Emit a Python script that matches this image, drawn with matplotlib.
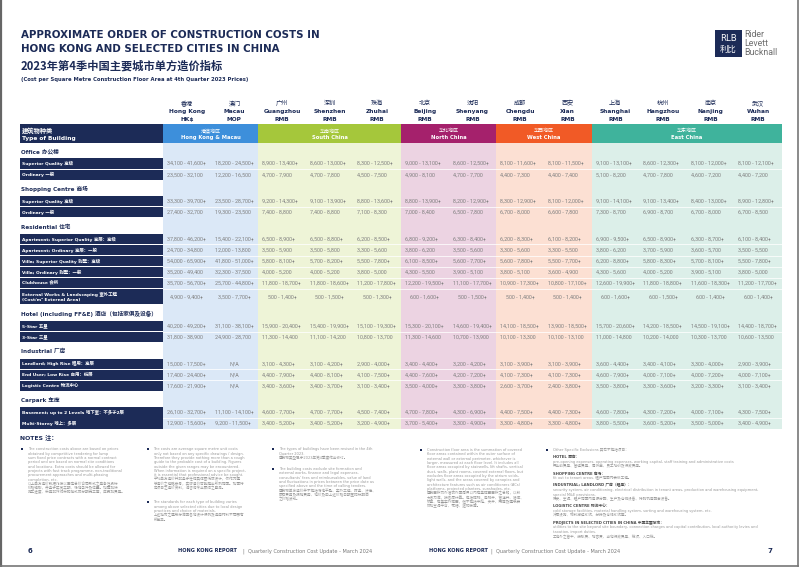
import matplotlib
matplotlib.use('Agg')
import matplotlib.pyplot as plt
from matplotlib.patches import Rectangle

plt.rcParams['font.family'] = ['DejaVu Sans', 'Noto Sans CJK SC']
FONT_TXT = ['DejaVu Sans', 'Noto Sans CJK SC']
FONT_NUM = ['Roboto', 'DejaVu Sans']
FONT_CJK = ['Noto Sans CJK SC', 'DejaVu Sans']

W, H = 802, 567
NAVY = '#1c2b57'
GREY = '#808080'

# 城市表头
cities_cn = ['香港', '澳门', '广州', '深圳', '珠海', '北京', '沈阳', '成都', '西安', '上海', '杭州', '南京', '武汉']
cities_en = ['Hong Kong', 'Macau', 'Guangzhou', 'Shenzhen', 'Zhuhai', 'Beijing', 'Shenyang',
             'Chengdu', 'Xian', 'Shanghai', 'Hangzhou', 'Nanjing', 'Wuhan']
currencies = ['HK$', 'MOP', 'RMB', 'RMB', 'RMB', 'RMB', 'RMB', 'RMB', 'RMB', 'RMB', 'RMB', 'RMB', 'RMB']

# 地区分组
region_cn = ['港澳地区', '华南地区', '华北地区', '华西地区', '华东地区']
region_en = ['Hong Kong & Macau', 'South China', 'North China', 'West China', 'East China']
region_ncols = [2, 3, 2, 2, 4]
region_colors = ['#3d8fdb', '#a5c73b', '#a5216c', '#f15a26', '#3fb39c']
region_light = ['#dbe8f7', '#eef4d7', '#ecd3e2', '#fce0d3', '#dcefe9']

# 办公楼
office_labels = ['Superior Quality 高级', 'Ordinary 一般']
office_superior = ['34,100 - 41,600+', '18,200 - 24,500+', '8,900 - 13,400+', '8,600 - 13,000+', '8,300 - 12,500+',
                   '9,000 - 13,100+', '8,600 - 12,500+', '8,100 - 11,600+', '8,100 - 11,500+',
                   '9,100 - 13,100+', '8,600 - 12,300+', '8,100 - 12,000+', '8,100 - 12,100+']
office_ordinary = ['23,500 - 32,100', '12,200 - 16,500', '4,700 - 7,900', '4,700 - 7,800', '4,500 - 7,500',
                   '4,900 - 8,100', '4,700 - 7,700', '4,400 - 7,300', '4,400 - 7,400',
                   '5,100 - 8,200', '4,700 - 7,800', '4,600 - 7,200', '4,400 - 7,200']

# 商场
shop_labels = ['Superior Quality 高级', 'Ordinary 一般']
shop_superior = ['33,300 - 39,700+', '23,500 - 28,700+', '9,200 - 14,300+', '9,100 - 13,900+', '8,800 - 13,600+',
                 '8,800 - 13,900+', '8,200 - 12,900+', '8,300 - 12,900+', '8,100 - 12,000+',
                 '9,100 - 14,100+', '9,100 - 13,400+', '8,400 - 13,000+', '8,900 - 12,800+']
shop_ordinary = ['27,400 - 32,700', '19,300 - 23,500', '7,400 - 8,800', '7,400 - 8,800', '7,100 - 8,300',
                 '7,000 - 8,400', '6,500 - 7,800', '6,700 - 8,000', '6,600 - 7,800',
                 '7,300 - 8,700', '6,900 - 8,700', '6,700 - 8,000', '6,700 - 8,500']

# 住宅
resi_labels = ['Apartment; Superior Quality 高层：高级', 'Apartment; Ordinary 高层：一般',
               'Villa; Superior Quality 别墅：高级', 'Villa; Ordinary 别墅：一般', 'Clubhouse 会所',
               'External Works & Landscaping 室外工程\n(Cost/m² External Area)']
apt_superior = ['37,800 - 46,200+', '15,400 - 22,100+', '6,500 - 8,900+', '6,500 - 8,800+', '6,200 - 8,500+',
                '6,800 - 9,200+', '6,300 - 8,400+', '6,200 - 8,300+', '6,100 - 8,200+',
                '6,900 - 9,500+', '6,500 - 8,900+', '6,300 - 8,700+', '6,100 - 8,400+']
apt_ordinary = ['24,700 - 34,800', '12,000 - 13,800', '3,500 - 5,900', '3,500 - 5,800', '3,300 - 5,600',
                '3,800 - 6,200', '3,500 - 5,600', '3,300 - 5,600', '3,300 - 5,500',
                '3,800 - 6,200', '3,700 - 5,900', '3,600 - 5,700', '3,500 - 5,500']
villa_superior = ['54,000 - 65,900+', '41,800 - 51,000+', '5,800 - 8,100+', '5,700 - 8,200+', '5,500 - 7,800+',
                  '6,100 - 8,500+', '5,600 - 7,700+', '5,600 - 7,800+', '5,500 - 7,700+',
                  '6,200 - 8,800+', '5,800 - 8,300+', '5,700 - 8,100+', '5,500 - 7,800+']
villa_ordinary = ['35,200 - 49,400', '32,300 - 37,500', '4,000 - 5,200', '4,000 - 5,200', '3,800 - 5,000',
                  '4,300 - 5,500', '3,900 - 5,100', '3,800 - 5,100', '3,600 - 4,900',
                  '4,300 - 5,600', '4,000 - 5,200', '3,900 - 5,100', '3,800 - 5,000']
clubhouse = ['35,700 - 56,700+', '25,700 - 44,800+', '11,800 - 18,700+', '11,800 - 18,600+', '11,200 - 17,800+',
             '12,200 - 19,500+', '11,100 - 17,700+', '10,900 - 17,300+', '10,800 - 17,100+',
             '12,600 - 19,900+', '11,800 - 18,800+', '11,600 - 18,300+', '11,200 - 17,700+']
external_works = ['4,900 - 9,400+', '3,500 - 7,700+', '500 - 1,400+', '500 - 1,500+', '500 - 1,300+',
                  '600 - 1,600+', '500 - 1,500+', '500 - 1,400+', '500 - 1,400+',
                  '600 - 1,600+', '600 - 1,500+', '600 - 1,400+', '600 - 1,400+']

# 酒店
hotel_labels = ['5-Star 五星', '3-Star 三星']
hotel_5star = ['40,200 - 49,200+', '31,100 - 38,100+', '15,900 - 20,400+', '15,400 - 19,900+', '15,100 - 19,300+',
               '15,300 - 20,100+', '14,600 - 19,400+', '14,100 - 18,500+', '13,900 - 18,500+',
               '15,700 - 20,600+', '14,200 - 18,500+', '14,500 - 19,100+', '14,400 - 18,700+']
hotel_3star = ['31,800 - 38,900', '24,900 - 28,700', '11,300 - 14,400', '11,100 - 14,200', '10,800 - 13,700',
               '11,300 - 14,600', '10,700 - 13,900', '10,100 - 13,300', '10,100 - 13,100',
               '11,000 - 14,800', '10,200 - 14,000', '10,300 - 13,700', '10,600 - 13,500']

# 厂房
ind_labels = ['Landlord; High Rise 租用：高层', 'End User; Low Rise 自用：低层', 'Logistic Centre 物流中心']
ind_landlord = ['15,000 - 17,500+', 'N/A', '3,100 - 4,300+', '3,100 - 4,200+', '2,900 - 4,000+',
                '3,400 - 4,400+', '3,200 - 4,200+', '3,100 - 3,900+', '3,100 - 3,900+',
                '3,600 - 4,400+', '3,400 - 4,100+', '3,300 - 4,000+', '2,900 - 3,900+']
ind_end_user = ['17,400 - 24,400+', 'N/A', '4,400 - 7,900+', '4,400 - 8,100+', '4,100 - 7,500+',
                '4,400 - 7,600+', '4,200 - 7,200+', '4,100 - 7,300+', '4,100 - 7,300+',
                '4,600 - 7,900+', '4,000 - 7,100+', '4,000 - 7,200+', '4,000 - 7,100+']
ind_logistic = ['17,600 - 21,900+', 'N/A', '3,400 - 3,600+', '3,400 - 3,700+', '3,100 - 3,400+',
                '3,500 - 4,000+', '3,300 - 3,800+', '2,600 - 3,700+', '2,400 - 3,800+',
                '3,500 - 3,800+', '3,300 - 3,600+', '3,200 - 3,300+', '3,100 - 3,400+']

# 车库
car_labels = ['Basement; up to 2 Levels 地下室：不多于2层', 'Multi-Storey 地上：多层']
car_basement = ['26,100 - 32,700+', '11,100 - 14,100+', '4,600 - 7,700+', '4,700 - 7,700+', '4,500 - 7,400+',
                '4,700 - 7,800+', '4,300 - 6,900+', '4,400 - 7,500+', '4,400 - 7,300+',
                '4,600 - 7,800+', '4,300 - 7,200+', '4,000 - 7,100+', '4,300 - 7,500+']
car_multi = ['12,900 - 15,600+', '9,200 - 11,500+', '3,400 - 5,200+', '3,400 - 5,200+', '3,200 - 4,900+',
             '3,700 - 5,400+', '3,300 - 4,900+', '3,300 - 4,800+', '3,300 - 4,800+',
             '3,800 - 5,500+', '3,600 - 5,200+', '3,500 - 5,000+', '3,400 - 4,900+']

section_titles = ['Office 办公楼', 'Shopping Centre 商场', 'Residential 住宅',
                  'Hotel (including FF&E) 酒店（包括家俱及设备）', 'Industrial 厂房', 'Carpark 车库']
sections = [
    (office_labels, [office_superior, office_ordinary]),
    (shop_labels, [shop_superior, shop_ordinary]),
    (resi_labels, [apt_superior, apt_ordinary, villa_superior, villa_ordinary, clubhouse, external_works]),
    (hotel_labels, [hotel_5star, hotel_3star]),
    (ind_labels, [ind_landlord, ind_end_user, ind_logistic]),
    (car_labels, [car_basement, car_multi]),
]

# 注释
note_col1 = ['The construction costs above are based on prices',
             'obtained by competitive tendering for lump',
             'sum fixed price contracts with a normal contract',
             'period and are based on normal site conditions',
             'and locations. Extra costs should be allowed for',
             'projects with fast track programme, non-traditional',
             'procurement approaches and multi-phasing',
             'completion, etc.',
             '以上单方造价数据乃按以固定总价合同形式之竞争性投标',
             '价格编制，并基于正常工期、场地条件及位置。如需加快',
             '施工进度、采用非传统采购模式或分期完工等，应另加费用。']
note_col2a = ['The costs are average square metre unit costs',
              'only not based on any specific drawings / design.',
              'Therefore they provide nothing more than a rough',
              'guide to the probable cost of a building. Figures',
              'outside the given ranges may be encountered.',
              'When information is required on a specific project,',
              'it is essential that professional advice be sought.',
              '平均单方造价并非基于任何具体图纸或设计，仅作为建',
              '筑造价之粗略参考，实际造价可能超出所列范围。如需特',
              '定项目之造价资料，请咨询专业顾问之意见。']
note_col2b = ['The standards for each type of building varies',
              'among above selected cities due to local design',
              'practices and choice of materials.',
              '上述城市之建筑标准因各地设计惯例及选用材料不同而有',
              '所差异。']
note_col3a = ['The types of buildings have been revised in the 4th',
              'Quarter 2023.',
              '建筑物类型已于2023年第4季度作出修订。']
note_col3b = ['The building costs exclude site formation and',
              'external works, finance and legal expenses,',
              "consultants' fees and reimbursables, value of land",
              'and fluctuations in prices between the price date as',
              'specified above and the time of calling tenders.',
              '建筑物单方造价并不包括场地平整、室外工程、财务、法律、',
              '顾问费用及报销费用、地价及由上述价格日期至招标期间',
              '之价格波动。']
note_col4 = ['Construction floor area is the summation of covered',
             'floor areas contained within the outer surface of',
             'external wall or external perimeter, whichever is',
             'larger, measured at each floor level. It includes all',
             'floor areas occupied by stairwells, lift shafts, vertical',
             'duct, walls, plant rooms, covered external floors, but',
             'excludes floor areas occupied by the atrium voids,',
             'light wells, and the areas covered by canopies and',
             'architecture features such as air conditioners (ACs)',
             'platforms, projected planters, sunshades, etc.',
             '建筑面积为外墙或外围周界以内有盖楼面面积之总和，以较',
             '大者为准，按各层计算。包括楼梯、电梯井、管道井、墙体、',
             '机房、有盖室外楼面，但不包括中庭、天井、雨篷及建筑装',
             '饰如空调平台、花槽、遮阳板等。']
note_col5 = [('Other Specific Exclusions 其它不包括项目：', False),
             ('HOTEL 酒店：', True),
             ('pre-opening expenses, operating expenses, working capital, staff training and administrative costs', False),
             ('开业前费用、营运费用、周转金、员工培训及行政费用。', False),
             ('SHOPPING CENTRE 商场：', True),
             ('fit out to tenant areas. 租户范围内装修工程。', False),
             ('INDUSTRIAL; LANDLORD 厂房（租用）：', True),
             ('security system, air conditioning, electrical distribution in tenant areas, production and warehousing equipment,', False),
             ('special M&E provisions.', False),
             ('保安、空调、租户范围内电源分配、生产及仓储设备、特别机电配套设备。', False),
             ('LOGISTIC CENTRE 物流中心：', True),
             ('cold storage facilities, material handling system, sorting and warehousing system, etc.', False),
             ('冷藏设施、物料搬运系统、分拣及仓储系统等。', False),
             ('PROJECTS IN SELECTED CITIES IN CHINA 中国主要城市：', True),
             ('utilities to the site beyond site boundary, connection charges and capital contribution, local authority levies and', False),
             ('taxation, import duties.', False),
             ('工地外之管干、接驳费、增容费、当地行政费用、税项、入口税。', False)]

# ---- 绘图 ----
fig = plt.figure(figsize=(W / 100, H / 100), dpi=100)
ax = fig.add_axes([0, 0, 1, 1])
ax.set_xlim(0, W)
ax.set_ylim(H, 0)
ax.axis('off')

# 页面边框
ax.plot([1, 1], [0, 565.5], color='#666666', lw=1.6)
ax.plot([797.5, 797.5], [0, 565.5], color='#777777', lw=1.2)
ax.plot([0, 797.5], [565.5, 565.5], color='#777777', lw=1.2)

# 标题
ax.text(21, 35.5, 'APPROXIMATE ORDER OF CONSTRUCTION COSTS IN', fontsize=7.4, fontweight='bold',
        color=NAVY, va='center', ha='left', family=FONT_TXT)
ax.text(21, 49.2, 'HONG KONG AND SELECTED CITIES IN CHINA', fontsize=7.4, fontweight='bold',
        color=NAVY, va='center', ha='left', family=FONT_TXT)
ax.text(20.5, 66.5, '2023年第4季中国主要城市单方造价指标', fontsize=8.1, fontweight='bold',
        color=NAVY, va='center', ha='left', family=FONT_CJK)
ax.text(21, 79.5, '(Cost per Square Metre Construction Floor Area at 4th Quarter 2023 Prices)',
        fontsize=3.8, fontweight='bold', color=NAVY, va='center', ha='left', family=FONT_TXT)

# 标志
ax.add_patch(Rectangle((715, 30), 27, 27, color=NAVY, lw=0))
ax.text(728.5, 38.5, 'RLB', fontsize=6.2, color='white', ha='center', va='center', family=FONT_TXT)
ax.text(728.5, 49.5, '利比', fontsize=6.0, color='white', ha='center', va='center', family=FONT_CJK)
for i, word in enumerate(['Rider', 'Levett', 'Bucknall']):
    ax.text(744.5, 34.5 + i * 9, word, fontsize=6.3, color='#6e6e6e', ha='left', va='center',
            family=['Roboto', 'DejaVu Sans'])

# 表格几何
tab_x0, tab_x1 = 163, 782
lab_x0 = 20
ncol = len(cities_en)
col_w = (tab_x1 - tab_x0) / ncol
band_top, band_bot = 124.3, 143.3
first_row_top = 158.0
row_h = 11.1
tall_h = 16.0
sec_gap = 15.5

# 行布局
rows_layout = []
heading_pos = []
y = first_row_top
for s_i, (labels, rows) in enumerate(sections):
    if s_i > 0:
        y += sec_gap
    heading_pos.append(y - 6.5)
    for j, (lab, vals) in enumerate(zip(labels, rows)):
        h = tall_h if '\n' in lab else row_h
        rows_layout.append((y, h, lab, vals, j == 0))
        y += h
table_bottom = y

# 城市表头
for c in range(ncol):
    cx = tab_x0 + (c + 0.5) * col_w
    ax.text(cx, 103.3, cities_cn[c], fontsize=4.4, color=NAVY, ha='center', va='center', family=FONT_CJK)
    ax.text(cx, 111.5, cities_en[c], fontsize=4.2, fontweight='bold', color=NAVY, ha='center', va='center',
            family=FONT_TXT)
    ax.text(cx, 119.2, currencies[c], fontsize=4.2, fontweight='bold', color=NAVY, ha='center', va='center',
            family=FONT_TXT)

# 地区色带和浅色底
c0 = 0
for r in range(len(region_en)):
    x0 = tab_x0 + c0 * col_w
    wdt = region_ncols[r] * col_w
    ax.add_patch(Rectangle((x0, band_bot), wdt, table_bottom - band_bot, color=region_light[r], lw=0))
    ax.add_patch(Rectangle((x0, band_top), wdt, band_bot - band_top, color=region_colors[r], lw=0))
    ax.text(x0 + wdt / 2, 131.0, region_cn[r], fontsize=3.6, color='white', ha='center', va='center',
            family=FONT_CJK)
    ax.text(x0 + wdt / 2, 137.8, region_en[r], fontsize=3.8, fontweight='bold', color='white',
            ha='center', va='center', family=FONT_TXT)
    c0 += region_ncols[r]

ax.add_patch(Rectangle((lab_x0, band_top), tab_x0 - lab_x0, band_bot - band_top, color=NAVY, lw=0))
ax.text(22, 130.6, '建筑物种类', fontsize=4.5, fontweight='bold', color='white', ha='left', va='center',
        family=FONT_CJK)
ax.text(22, 138.3, 'Type of Building', fontsize=4.2, fontweight='bold', color='white', ha='left',
        va='center', family=FONT_TXT)

# 分类标题
for title, hy in zip(section_titles, heading_pos):
    ax.text(21, hy, title, fontsize=4.1, fontweight='bold', color=NAVY, ha='left', va='center',
            family=FONT_TXT)

# 数据行
for top, h, lab, vals, is_first in rows_layout:
    ax.add_patch(Rectangle((lab_x0, top + 0.45), tab_x0 - lab_x0, h - 0.9, color=NAVY, lw=0))
    if not is_first:
        ax.plot([tab_x0, tab_x1], [top, top], color='white', lw=0.6, alpha=0.9)
    ax.text(22.5, top + h / 2, lab, fontsize=3.2, fontweight='bold', color='white', ha='left',
            va='center', family=FONT_TXT, linespacing=1.25)
    tall = '\n' in lab
    for c, v in enumerate(vals):
        if tall or v == 'N/A':
            ax.text(tab_x0 + (c + 0.5) * col_w, top + h / 2, v, fontsize=3.9, color=GREY,
                    ha='center', va='center', family=FONT_NUM)
        else:
            ax.text(tab_x0 + c * col_w + 4, top + h / 2, v, fontsize=3.9, color=GREY,
                    ha='left', va='center', family=FONT_NUM)

# 注释
ax.text(20.5, 438.5, 'NOTES 注：', fontsize=4.4, fontweight='bold', color=NAVY, ha='left', va='center',
        family=FONT_TXT)
pitch = 4.33
NOTE_GREY = '#999999'


def note_block(x, y0, lines):
    ax.add_patch(Rectangle((x - 6.8, y0 - 0.9), 1.8, 1.8, color=NAVY, lw=0))
    for k, line in enumerate(lines):
        ax.text(x, y0 + k * pitch, line, fontsize=2.6, color=NOTE_GREY, ha='left', va='center',
                family=FONT_TXT)


note_block(28, 449.2, note_col1)
note_block(153.5, 449.2, note_col2a)
note_block(153.5, 502.3, note_col2b)
note_block(279, 449.2, note_col3a)
note_block(279, 469.0, note_col3b)
note_block(427, 450.0, note_col4)

ax.add_patch(Rectangle((546, 449.1), 1.8, 1.8, color=NAVY, lw=0))
y5 = 450.0
for k, (line, bold) in enumerate(note_col5):
    if k > 0:
        y5 += 7.2 if bold else 4.6
    ax.text(553, y5, line, fontsize=2.7 if bold else 2.6, fontweight='bold' if bold else 'normal',
            color='#4a4a4a' if bold else NOTE_GREY, ha='left', va='center', family=FONT_TXT)

# 页脚
ax.text(30, 551, '6', fontsize=5, fontweight='bold', color=NAVY, ha='center', va='center', family=FONT_TXT)
ax.text(770, 551, '7', fontsize=5, fontweight='bold', color=NAVY, ha='center', va='center', family=FONT_TXT)
ax.text(372, 551, '|  Quarterly Construction Cost Update - March 2024', fontsize=3.6, color='#777777',
        ha='right', va='center', family=FONT_TXT)
ax.text(237, 551, 'HONG KONG REPORT', fontsize=3.6, fontweight='bold', color=NAVY, ha='right',
        va='center', family=FONT_TXT)
ax.text(429, 551, 'HONG KONG REPORT', fontsize=3.6, fontweight='bold', color=NAVY, ha='left',
        va='center', family=FONT_TXT)
ax.text(491, 551, '|  Quarterly Construction Cost Update - March 2024', fontsize=3.6, color='#777777',
        ha='left', va='center', family=FONT_TXT)

fig.savefig('out.png', dpi=100)
